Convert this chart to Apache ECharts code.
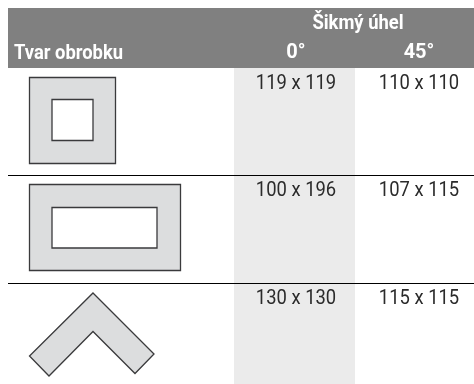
<!DOCTYPE html>
<html lang="en">
<head>
    <meta charset="UTF-8">
    <title>Tvar obrobku</title>
    <script src="https://cdn.jsdelivr.net/npm/echarts@6/dist/echarts.min.js"></script>
    <style>html,body{margin:0;padding:0;background:#fff}</style>
</head>
<body>
<div id="main" style="width:474px;height:384px;"></div>

<script type="text/javascript">
    // table content
    var groupTitle = 'Šikmý úhel';
    var shapeTitle = 'Tvar obrobku';
    var angles = ['0°', '45°'];
    var sizes0 = ['119 x 119', '100 x 196', '130 x 130'];
    var sizes45 = ['110 x 110', '107 x 115', '115 x 115'];

    var rowTops = [68, 175, 283];
    var colCenters = [296, 419];
    var bodyFont = '20px Roboto, sans-serif';
    var headFont = 'bold 20px Roboto, sans-serif';
    var shapeStyle = {fill: '#dcddde', stroke: '#3a3a3c', lineWidth: 1.3};
    var holeStyle = {fill: '#fff', stroke: '#3a3a3c', lineWidth: 1.3};

    var els = [];
    function box(x, y, w, h, style) {
        els.push({type: 'rect', shape: {x: x, y: y, width: w, height: h}, style: style});
    }
    // text is squeezed a bit horizontally, the original face is condensed
    function label(text, x, y, font, color, align, squeeze) {
        els.push({
            type: 'text', x: x, y: y, scaleX: squeeze,
            style: {text: text, font: font, fill: color, align: align, verticalAlign: 'middle'}
        });
    }

    // backgrounds
    box(8, 8, 466, 60, {fill: '#808080'});
    box(234, 68, 121, 316, {fill: '#ebebeb'});

    // row rules
    rowTops.slice(1).forEach(function (y) {
        els.push({type: 'line', shape: {x1: 8, y1: y + 0.5, x2: 474, y2: y + 0.5}, style: {stroke: '#000', lineWidth: 1}});
    });

    // header
    label(groupTitle, 358, 24, headFont, '#fff', 'center', 0.92);
    label(shapeTitle, 14, 54, headFont, '#fff', 'left', 0.92);
    angles.forEach(function (a, i) {
        label(a, colCenters[i], 53, headFont, '#fff', 'center', 1);
    });

    // values
    rowTops.forEach(function (y, i) {
        label(sizes0[i], colCenters[0], y + 16, bodyFont, '#2b2b2b', 'center', 0.92);
        label(sizes45[i], colCenters[1], y + 16, bodyFont, '#2b2b2b', 'center', 0.92);
    });

    // workpiece sketches
    box(29.5, 77.5, 86, 86, shapeStyle);
    box(52, 99.5, 41, 41, holeStyle);
    box(29.5, 184.5, 151, 86, shapeStyle);
    box(52, 207.5, 105, 40.5, holeStyle);
    els.push({
        type: 'polygon',
        shape: {points: [[93, 293], [154, 354], [135, 373.5], [93, 331.5], [49, 376], [29.5, 356]]},
        style: shapeStyle
    });

    var myChart = echarts.init(document.getElementById('main'));
    myChart.setOption({
        animation: false,
        graphic: {elements: els}
    });
</script>
</body>
</html>
